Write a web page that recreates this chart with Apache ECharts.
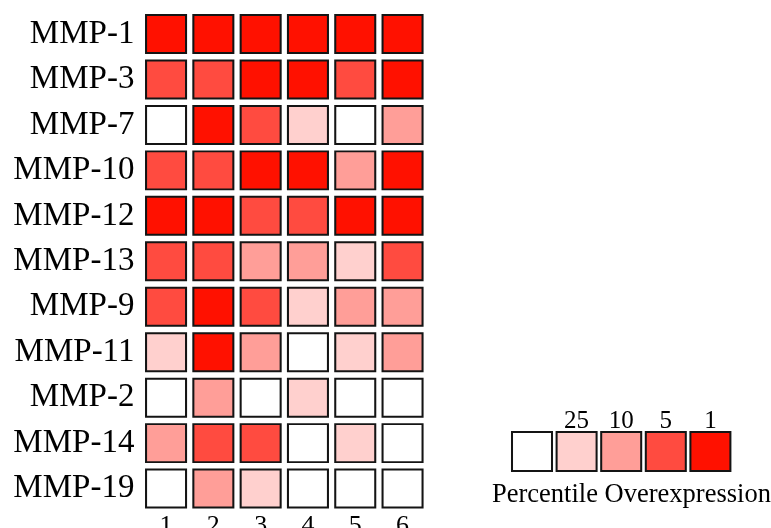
<!DOCTYPE html>
<html>
<head>
<meta charset="utf-8">
<script src="https://cdn.jsdelivr.net/npm/echarts@6/dist/echarts.min.js"></script>
<style>html,body{margin:0;padding:0;background:#fff;}#c{width:771px;height:528px;}</style>
</head>
<body>
<div id="c"></div>
<script>
// Data
const genes = ['MMP-1','MMP-3','MMP-7','MMP-10','MMP-12','MMP-13','MMP-9','MMP-11','MMP-2','MMP-14','MMP-19'];
const samples = ['1','2','3','4','5','6'];
// level: 0 = none, 1 = 25th, 2 = 10th, 3 = 5th, 4 = 1st percentile
const levels = [
  [4,4,4,4,4,4],
  [3,3,4,4,3,4],
  [0,4,3,1,0,2],
  [3,3,4,4,2,4],
  [4,4,3,3,4,4],
  [3,3,2,2,1,3],
  [3,4,3,1,2,2],
  [1,4,2,0,1,2],
  [0,2,0,1,0,0],
  [2,3,3,0,1,0],
  [0,2,1,0,0,0]
];
const legendLabels = ['', '25', '10', '5', '1'];
const legendLevels = [0, 1, 2, 3, 4];
const palette = ['#ffffff', '#ffd0ce', '#ff9e98', '#ff4b40', '#ff1100'];

const cellData = [];
levels.forEach((row, r) => row.forEach((v, c) => cellData.push([c, r, v])));
const legData = legendLevels.map((v, i) => [i, 0, v]);

const serif = 'Liberation Serif';
const chart = echarts.init(document.getElementById('c'));
chart.setOption({
  animation: false,
  backgroundColor: '#fff',
  title: {
    text: 'Percentile Overexpression',
    left: 487, top: 477,
    textStyle: { fontFamily: serif, fontSize: 26.5, fontWeight: 'normal', color: '#000' }
  },
  grid: [
    { left: 142.4, top: 11.3, width: 283.8, height: 500, outerBoundsMode: 'none', containLabel: false },
    { left: 509.7, top: 431, width: 223, height: 41, outerBoundsMode: 'none', containLabel: false }
  ],
  xAxis: [
    { type: 'category', gridIndex: 0, data: samples, position: 'bottom',
      axisLine: { show: false }, axisTick: { show: false }, splitLine: { show: false },
      axisLabel: { fontFamily: serif, fontSize: 26, color: '#000', margin: 2 } },
    { type: 'category', gridIndex: 1, data: legendLabels, position: 'top',
      axisLine: { show: false }, axisTick: { show: false }, splitLine: { show: false },
      axisLabel: { fontFamily: serif, fontSize: 25, color: '#000', margin: -3 } }
  ],
  yAxis: [
    { type: 'category', gridIndex: 0, data: genes, inverse: true,
      axisLine: { show: false }, axisTick: { show: false }, splitLine: { show: false },
      axisLabel: { fontFamily: serif, fontSize: 33, color: '#000', margin: 8 } },
    { type: 'category', gridIndex: 1, data: ['x'], show: false }
  ],
  series: [
    { type: 'scatter', xAxisIndex: 0, yAxisIndex: 0, data: cellData,
      symbol: 'rect', symbolSize: [40, 38],
      itemStyle: { opacity: 1, borderColor: '#141414', borderWidth: 2,
        color: p => palette[p.data[2]] },
      emphasis: { disabled: true } },
    { type: 'scatter', xAxisIndex: 1, yAxisIndex: 1, data: legData,
      symbol: 'rect', symbolSize: [40, 39],
      itemStyle: { opacity: 1, borderColor: '#141414', borderWidth: 2,
        color: p => palette[p.data[2]] },
      emphasis: { disabled: true } }
  ]
});
</script>
</body>
</html>
